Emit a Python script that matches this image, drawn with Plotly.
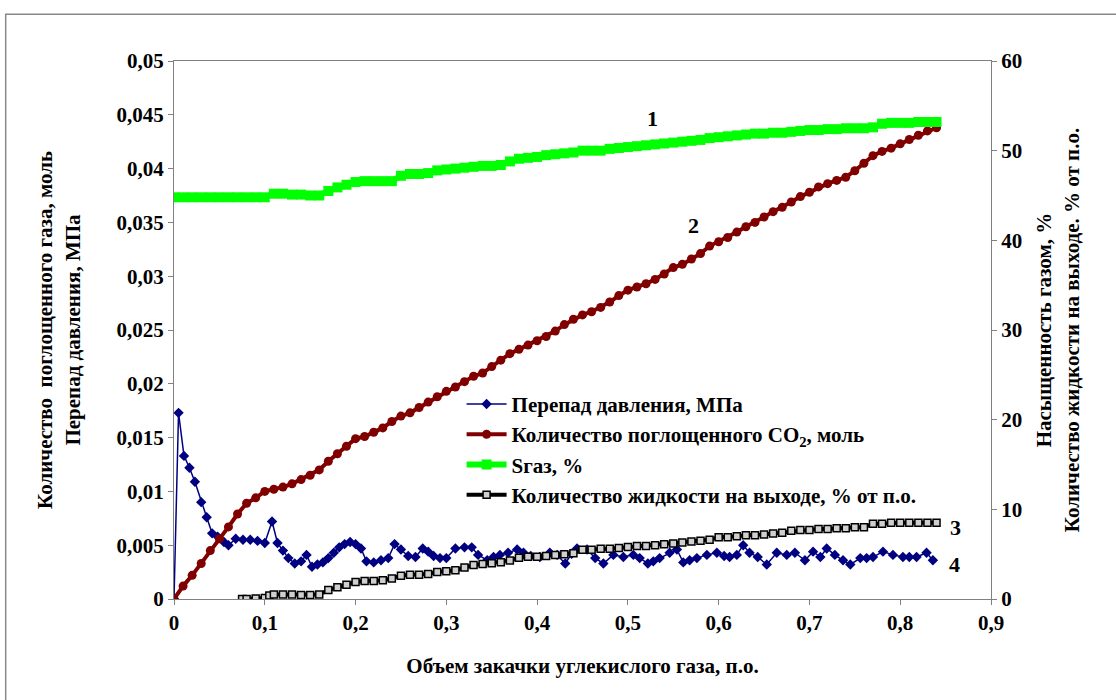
import plotly.graph_objects as go

# ---------------- data ----------------
# Perepad davleniya (MPa), left axis
dp_x = [0.000, 0.005, 0.011, 0.017, 0.023, 0.030, 0.036, 0.042, 0.048, 0.055,
        0.060, 0.068, 0.076, 0.084, 0.092, 0.100, 0.108, 0.114, 0.120, 0.126,
        0.133, 0.140, 0.146, 0.152, 0.158, 0.164, 0.170, 0.176, 0.182, 0.188,
        0.194, 0.200, 0.206, 0.212, 0.220, 0.228, 0.236, 0.243, 0.250, 0.258,
        0.266, 0.274, 0.280, 0.286, 0.293, 0.300, 0.310, 0.320, 0.328, 0.335,
        0.345, 0.352, 0.359, 0.368, 0.378, 0.385, 0.393, 0.403, 0.414, 0.422,
        0.431, 0.438, 0.444, 0.455, 0.464, 0.473, 0.484, 0.495, 0.506, 0.513,
        0.522, 0.528, 0.535, 0.546, 0.554, 0.561, 0.568, 0.576, 0.587, 0.598,
        0.606, 0.612, 0.620, 0.627, 0.634, 0.643, 0.653, 0.664, 0.675, 0.684,
        0.695, 0.704, 0.712, 0.719, 0.728, 0.737, 0.745, 0.756, 0.763, 0.770,
        0.781, 0.792, 0.803, 0.810, 0.818, 0.829, 0.836]
dp_y = [0.0000, 0.0173, 0.0133, 0.0122, 0.0109, 0.0090, 0.0076, 0.0061, 0.0058, 0.0053,
        0.0050, 0.0056, 0.0055, 0.0055, 0.0054, 0.0052, 0.0072, 0.0052, 0.0045, 0.0038,
        0.0033, 0.0035, 0.0041, 0.0030, 0.0032, 0.0034, 0.0038, 0.0043, 0.0048, 0.0051,
        0.0053, 0.0051, 0.0047, 0.0035, 0.0034, 0.0036, 0.0038, 0.0051, 0.0046, 0.0040,
        0.0039, 0.0047, 0.0044, 0.0040, 0.0038, 0.0038, 0.0047, 0.0048, 0.0048, 0.0041,
        0.0036, 0.0039, 0.0041, 0.0043, 0.0046, 0.0043, 0.0040, 0.0039, 0.0043, 0.0041,
        0.0033, 0.0042, 0.0047, 0.0046, 0.0038, 0.0033, 0.0041, 0.0039, 0.0041, 0.0038,
        0.0033, 0.0035, 0.0038, 0.0043, 0.0046, 0.0034, 0.0036, 0.0038, 0.0041, 0.0043,
        0.0040, 0.0039, 0.0041, 0.0050, 0.0043, 0.0039, 0.0032, 0.0043, 0.0041, 0.0043,
        0.0036, 0.0044, 0.0039, 0.0047, 0.0041, 0.0036, 0.0032, 0.0038, 0.0038, 0.0039,
        0.0044, 0.0041, 0.0039, 0.0039, 0.0039, 0.0043, 0.0036]

# Kolichestvo pogloshchennogo CO2 (mol), left axis
co2_x = [round(0.01 * i, 2) for i in range(85)]
co2_y = [0.0000, 0.0012, 0.0022, 0.0033, 0.0045, 0.0056, 0.0067, 0.0079, 0.0089, 0.0094,
         0.0100, 0.0102, 0.0104, 0.0107, 0.0111, 0.0115, 0.0120, 0.0128, 0.0135, 0.0142,
         0.0149, 0.0151, 0.0155, 0.0159, 0.0165, 0.0170, 0.0173, 0.0178, 0.0183, 0.0188,
         0.0193, 0.0197, 0.0202, 0.0207, 0.0210, 0.0216, 0.0222, 0.0228, 0.0232, 0.0236,
         0.0240, 0.0244, 0.0249, 0.0255, 0.0260, 0.0264, 0.0267, 0.0271, 0.0276, 0.0282,
         0.0287, 0.0290, 0.0293, 0.0297, 0.0302, 0.0308, 0.0311, 0.0316, 0.0321, 0.0328,
         0.0332, 0.0336, 0.0341, 0.0346, 0.0350, 0.0355, 0.0360, 0.0364, 0.0369, 0.0374,
         0.0378, 0.0383, 0.0386, 0.0389, 0.0392, 0.0398, 0.0405, 0.0412, 0.0416, 0.0419,
         0.0423, 0.0427, 0.0431, 0.0435, 0.0438]

# Sgas (%), right axis
sg_x = [round(0.01 * i, 2) for i in range(85)]
sg_y = [44.8, 44.8, 44.8, 44.8, 44.8, 44.8, 44.8, 44.8, 44.8, 44.8,
        44.8, 45.2, 45.2, 45.1, 45.1, 45.0, 45.0, 45.5, 45.9, 46.2,
        46.5, 46.6, 46.6, 46.6, 46.6, 47.2, 47.4, 47.4, 47.5, 47.8,
        47.9, 48.0, 48.1, 48.2, 48.3, 48.3, 48.4, 48.8, 49.1, 49.2,
        49.3, 49.5, 49.6, 49.7, 49.8, 50.0, 50.0, 50.0, 50.2, 50.3,
        50.4, 50.5, 50.6, 50.7, 50.8, 50.9, 51.0, 51.1, 51.2, 51.4,
        51.5, 51.6, 51.7, 51.8, 51.9, 51.9, 52.0, 52.0, 52.1, 52.2,
        52.3, 52.3, 52.4, 52.4, 52.5, 52.5, 52.5, 52.6, 53.0, 53.1,
        53.1, 53.1, 53.2, 53.2, 53.2]

# Kolichestvo zhidkosti na vykhode (% ot p.o.), right axis
lq_x = [0.075, 0.08, 0.09, 0.10, 0.105, 0.11, 0.12, 0.13, 0.14, 0.15, 0.16,
        0.17, 0.18, 0.19, 0.20, 0.21, 0.22, 0.23, 0.24, 0.25, 0.26, 0.27, 0.28,
        0.29, 0.30, 0.31, 0.32, 0.33, 0.34, 0.35, 0.36, 0.37, 0.38, 0.39, 0.40,
        0.41, 0.42, 0.43, 0.44, 0.45, 0.46, 0.47, 0.48, 0.49, 0.50, 0.51, 0.52,
        0.53, 0.54, 0.55, 0.56, 0.57, 0.58, 0.59, 0.60, 0.61, 0.62, 0.63, 0.64,
        0.65, 0.66, 0.67, 0.68, 0.69, 0.70, 0.71, 0.72, 0.73, 0.74, 0.75, 0.76,
        0.77, 0.78, 0.79, 0.80, 0.81, 0.82, 0.83, 0.84]
lq_y = [0.0, 0.0, 0.05, 0.1, 0.4, 0.5, 0.5, 0.5, 0.45, 0.45, 0.5,
        1.0, 1.3, 1.6, 1.9, 2.0, 2.0, 2.1, 2.3, 2.6, 2.7, 2.7, 2.8,
        3.0, 3.1, 3.2, 3.5, 3.8, 3.9, 4.0, 4.1, 4.3, 4.6, 4.7, 4.7,
        4.8, 4.9, 5.0, 5.1, 5.5, 5.5, 5.6, 5.6, 5.7, 5.8, 5.9, 5.9,
        6.0, 6.1, 6.2, 6.3, 6.4, 6.5, 6.6, 6.9, 6.9, 7.0, 7.1, 7.1,
        7.2, 7.3, 7.4, 7.6, 7.7, 7.7, 7.8, 7.8, 7.9, 7.9, 8.0, 8.0,
        8.4, 8.4, 8.5, 8.5, 8.5, 8.5, 8.5, 8.5]

# curve numbers: label, x, y (right axis units)
curve_labels = ["1", "2", "3", "4"]
curve_label_x = [0.527, 0.572, 0.861, 0.860]
curve_label_y = [53.6, 41.7, 8.0, 3.8]

FONT = "Liberation Serif"

fig = go.Figure()
fig.add_trace(go.Scatter(
    x=dp_x, y=dp_y, mode="lines+markers", name="Перепад давления, МПа",
    line=dict(color="#000080", width=1.5),
    marker=dict(symbol="diamond", size=8, color="#000080")))
fig.add_trace(go.Scatter(
    x=co2_x, y=co2_y, mode="lines+markers",
    name="Количество поглощенного CO<sub>2</sub>, моль",
    line=dict(color="#800000", width=4),
    marker=dict(symbol="circle", size=9, color="#800000")))
fig.add_trace(go.Scatter(
    x=sg_x, y=sg_y, mode="lines+markers", name="Sгаз, %", yaxis="y2",
    line=dict(color="#00FF00", width=6),
    marker=dict(symbol="square", size=10, color="#00FF00")))
fig.add_trace(go.Scatter(
    x=lq_x, y=lq_y, mode="lines+markers",
    name="Количество жидкости на выходе, % от п.о.", yaxis="y2",
    line=dict(color="#000000", width=4),
    marker=dict(symbol="square", size=7, color="#cfcfcf",
                line=dict(color="#000000", width=1.5))))

for t, xx, yy in zip(curve_labels, curve_label_x, curve_label_y):
    fig.add_annotation(x=xx, y=yy, xref="x", yref="y2", text=t, showarrow=False,
                       font=dict(family=FONT, size=22, color="black", weight="bold"))

tickfont = dict(family=FONT, size=21, color="black", weight="bold")
titlefont = dict(family=FONT, size=21, color="black", weight="bold")

fig.update_layout(
    width=1116, height=700,
    margin=dict(l=174, r=125, t=61, b=101),
    paper_bgcolor="white", plot_bgcolor="white",
    separators=", ",
    showlegend=True,
    legend=dict(x=0.352, y=0.40, xanchor="left", yanchor="top",
                bgcolor="rgba(0,0,0,0)",
                font=dict(family=FONT, size=21, color="black", weight="bold"),
                tracegroupgap=0, itemwidth=40),
    xaxis=dict(range=[0, 0.9], dtick=0.1, tick0=0, showgrid=False, zeroline=False,
               showline=True, linecolor="#808080", linewidth=1, mirror=True,
               ticks="outside", ticklen=5, tickcolor="#808080", tickfont=tickfont,
               title=dict(text="Объем закачки углекислого газа, п.о.", font=titlefont, standoff=24)),
    yaxis=dict(range=[0, 0.05], dtick=0.005, tick0=0, showgrid=False, zeroline=False,
               showline=True, linecolor="#808080", linewidth=1,
               ticks="outside", ticklen=5, tickcolor="#808080", tickfont=tickfont,
               title=dict(text="Количество  поглощенного газа, моль<br>Перепад давления, МПа",
                          font=titlefont, standoff=30)),
    yaxis2=dict(range=[0, 60], dtick=10, tick0=0, overlaying="y", side="right",
                showgrid=False, zeroline=False,
                showline=True, linecolor="#808080", linewidth=1,
                ticks="outside", ticklen=5, tickcolor="#808080", tickfont=tickfont,
                title=dict(text="Насыщенность газом, %<br>Количество жидкости на выходе. % от п.о.",
                           font=titlefont, standoff=15)),
)

# outer chart frame
fig.add_shape(type="rect", xref="paper", yref="paper",
              x0=-0.206, x1=1.16, y0=-0.2, y1=1.087,
              line=dict(color="#888888", width=1.5), fillcolor="rgba(0,0,0,0)", layer="below")

fig.write_html("out.html")
